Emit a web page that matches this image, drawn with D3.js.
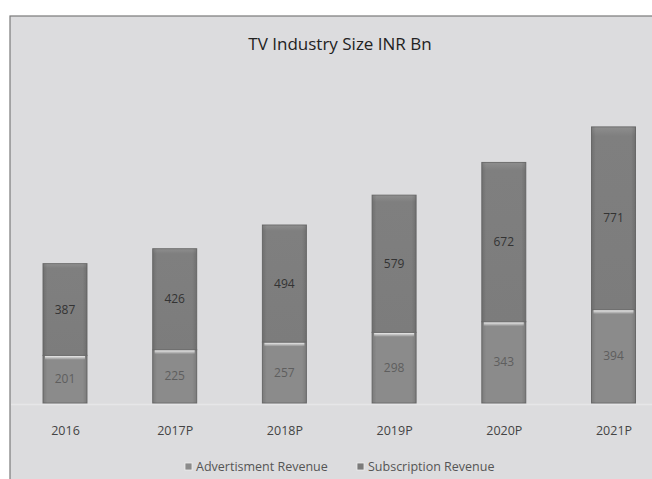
<!DOCTYPE html>
<html>
<head>
<meta charset="utf-8">
<script src="https://cdn.jsdelivr.net/npm/d3@7"></script>
<style>
  body { margin: 0; background: #fff; }
  svg { display: block; }
</style>
</head>
<body>
<svg id="chart" width="652" height="479"></svg>
<script>
(function() {
  'use strict';

  // chart data
  var years = ['2016', '2017P', '2018P', '2019P', '2020P', '2021P'];
  var adRevenue = [201, 225, 257, 298, 343, 394];
  var subRevenue = [387, 426, 494, 579, 672, 771];
  var seriesNames = ['Advertisment Revenue', 'Subscription Revenue'];

  var svg = d3.select('#chart'),
    font = '"Open Sans", "DejaVu Sans", sans-serif',
    baseY = 403, barW = 44;

  var rows = years.map(function(y, i) {
    return { year: y, ad: adRevenue[i], sub: subRevenue[i] };
  });

  var x = d3.scalePoint()
      .domain(years)
      .range([65, 613.5]);

  var y = d3.scaleLinear()
      .domain([0, 1200])
      .range([baseY, baseY - 1200 * 0.237]);

  var stacked = d3.stack().keys(['ad', 'sub'])(rows);

  var defs = svg.append('defs');
  var gSub = defs.append('linearGradient').attr('id', 'gsub')
      .attr('x1', 0).attr('y1', 0).attr('x2', 0).attr('y2', 1);
  gSub.append('stop').attr('offset', 0).attr('stop-color', '#8e8e8e');
  gSub.append('stop').attr('offset', 0.05).attr('stop-color', '#7f7f7f');
  gSub.append('stop').attr('offset', 1).attr('stop-color', '#7c7c7c');
  var gSide = defs.append('linearGradient').attr('id', 'gside')
      .attr('x1', 0).attr('y1', 0).attr('x2', 1).attr('y2', 0);
  gSide.append('stop').attr('offset', 0).attr('stop-color', '#000').attr('stop-opacity', 0.12);
  gSide.append('stop').attr('offset', 0.1).attr('stop-color', '#000').attr('stop-opacity', 0);
  gSide.append('stop').attr('offset', 0.9).attr('stop-color', '#000').attr('stop-opacity', 0);
  gSide.append('stop').attr('offset', 1).attr('stop-color', '#000').attr('stop-opacity', 0.12);
  var gHi = defs.append('linearGradient').attr('id', 'ghi')
      .attr('x1', 0).attr('y1', 0).attr('x2', 0).attr('y2', 1);
  gHi.append('stop').attr('offset', 0).attr('stop-color', '#fff').attr('stop-opacity', 0.85);
  gHi.append('stop').attr('offset', 1).attr('stop-color', '#fff').attr('stop-opacity', 0);

  // frame + background
  svg.append('rect')
      .attr('x', 10).attr('y', 16)
      .attr('width', 660).attr('height', 480)
      .attr('fill', '#dcdcde')
      .attr('stroke', '#7a7a7a')
      .attr('stroke-width', 1.2);

  svg.append('line')
      .attr('x1', 11).attr('x2', 652)
      .attr('y1', baseY + 1.5).attr('y2', baseY + 1.5)
      .attr('stroke', '#e6e6e8')
      .attr('stroke-width', 1.5);

  svg.append('text')
      .attr('x', 340).attr('y', 50)
      .attr('text-anchor', 'middle')
      .attr('font-family', font)
      .attr('font-size', 17)
      .attr('fill', '#222')
      .text('TV Industry Size INR Bn');

  var fills = { ad: '#8b8b8b', sub: 'url(#gsub)' };
  var labelColors = { ad: '#5e5e5e', sub: '#333' };

  stacked.forEach(function(layer) {
    var key = layer.key;
    var g = svg.append('g').attr('class', 'layer-' + key);
    g.selectAll('rect.bar')
        .data(layer)
      .enter().append('rect')
        .attr('class', 'bar')
        .attr('x', function(d) { return x(d.data.year) - barW / 2; })
        .attr('y', function(d) { return y(d[1]); })
        .attr('width', barW)
        .attr('height', function(d) { return y(d[0]) - y(d[1]); })
        .attr('fill', fills[key])
        .attr('stroke', '#6f6f6f')
        .attr('stroke-width', 1);
    g.selectAll('rect.side')
        .data(layer)
      .enter().append('rect')
        .attr('class', 'side')
        .attr('x', function(d) { return x(d.data.year) - barW / 2; })
        .attr('y', function(d) { return y(d[1]); })
        .attr('width', barW)
        .attr('height', function(d) { return y(d[0]) - y(d[1]); })
        .attr('fill', 'url(#gside)');
    if (key === 'ad') {
      // soft light strip along the top of the lower segment
      g.selectAll('rect.hi')
          .data(layer)
        .enter().append('rect')
          .attr('class', 'hi')
          .attr('x', function(d) { return x(d.data.year) - barW / 2 + 2; })
          .attr('y', function(d) { return y(d[1]) + 0.5; })
          .attr('width', barW - 4)
          .attr('height', 4)
          .attr('fill', 'url(#ghi)');
    }
    g.selectAll('text')
        .data(layer)
      .enter().append('text')
        .attr('x', function(d) { return x(d.data.year); })
        .attr('y', function(d) { return (y(d[0]) + y(d[1])) / 2 + 4; })
        .attr('text-anchor', 'middle')
        .attr('font-family', font)
        .attr('font-size', 12)
        .attr('fill', labelColors[key])
        .text(function(d) { return d[1] - d[0]; });
  });

  // category axis
  var xAxis = svg.append('g')
      .attr('transform', 'translate(0,' + (baseY + 1) + ')')
      .call(d3.axisBottom(x).tickSize(0).tickPadding(0));
  xAxis.select('.domain').remove();
  xAxis.selectAll('text')
      .attr('dy', 0)
      .attr('y', 31)
      .attr('font-family', font)
      .attr('font-size', 12.5)
      .attr('fill', '#444');

  // legend
  var legendX = [185, 357], legendFill = ['#8b8b8b', '#7b7b7b'];
  var legend = svg.append('g');
  seriesNames.forEach(function(name, i) {
    legend.append('rect')
        .attr('x', legendX[i]).attr('y', 463)
        .attr('width', 7).attr('height', 7)
        .attr('fill', legendFill[i])
        .attr('stroke', '#eee').attr('stroke-width', 0.8);
    legend.append('text')
        .attr('x', legendX[i] + 11).attr('y', 471)
        .attr('font-family', font)
        .attr('font-size', 12.5)
        .attr('fill', '#555')
        .text(name);
  });
}());
</script>
</body>
</html>
